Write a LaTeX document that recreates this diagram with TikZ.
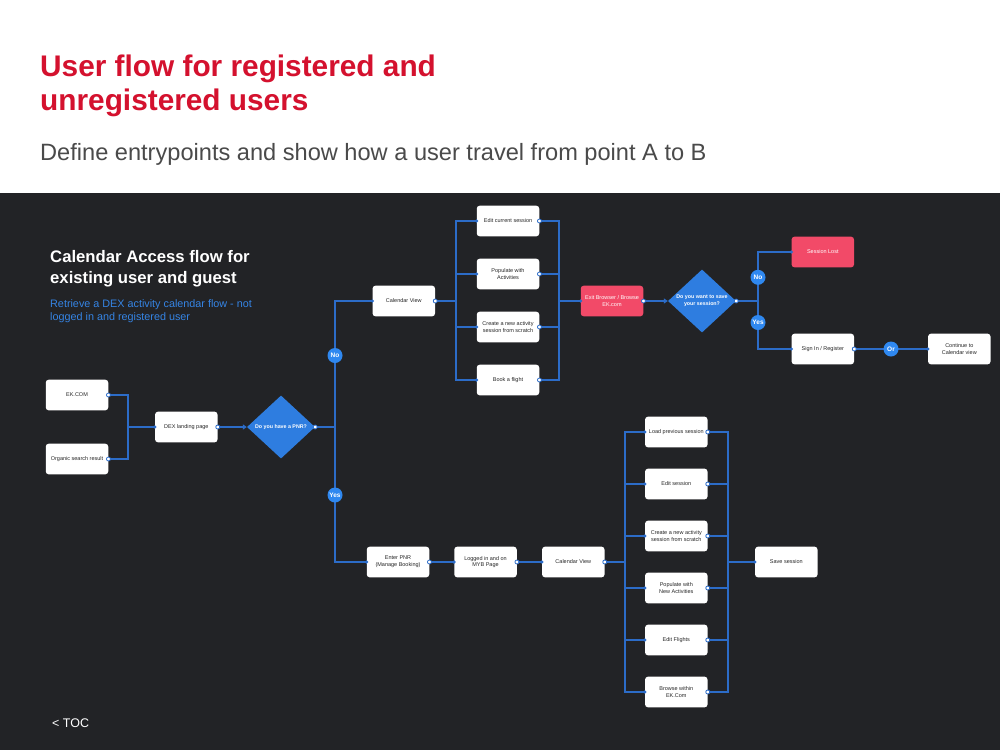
\documentclass[tikz,border=0pt]{standalone}
\usepackage{fontspec}
\setmainfont{Liberation Sans}
\usetikzlibrary{shapes.geometric,arrows.meta}
\definecolor{bgdark}{HTML}{222326}
\definecolor{titlered}{HTML}{D4112E}
\definecolor{subgray}{HTML}{4A4A4A}
\definecolor{dblue}{HTML}{2E7DE0}
\definecolor{badgeblue}{HTML}{2F88F0}
\definecolor{lineblue}{HTML}{2C6CC8}
\definecolor{nodered}{HTML}{F24A68}
\definecolor{leftblue}{HTML}{3584E4}
\tikzset{
  box/.style={fill=white, rounded corners=3pt, minimum width=62.5pt, minimum height=30.7pt,
    inner sep=0pt, align=center, text=black!85, font=\fontsize{5.5}{6.8}\selectfont},
  redbox/.style={box, fill=nodered, text=white},
  dia/.style={diamond, fill=dblue, minimum width=68pt, minimum height=63pt, inner sep=0pt,
    align=center, text=white, font=\bfseries\fontsize{5.3}{6.6}\selectfont},
  badge/.style={circle, fill=badgeblue, minimum size=15pt, inner sep=0pt, text=white,
    font=\bfseries\fontsize{6.5}{7}\selectfont},
  conn/.style={draw=lineblue, line width=1.6pt},
  arr/.style={conn, -{Triangle[length=4pt,width=5pt]}},
}
\newcommand{\srcdot}[1]{\filldraw[fill=white, draw=lineblue, line width=0.8pt] #1 circle (2pt);}
\newcommand{\tgtdot}[1]{\fill[lineblue] #1 circle (1.8pt);}
\begin{document}
\begin{tikzpicture}[x=1pt,y=-1pt]
\useasboundingbox (0,0) rectangle (1000,750);
\fill[white] (0,0) rectangle (1000,192.5);
\fill[bgdark] (0,192.5) rectangle (1000,750);

% header
\node[anchor=base west, inner sep=0pt, text=titlered,
  font=\bfseries\fontsize{29.8}{34}\selectfont] (title) at (40,76)
  {User flow for registered and};
\node[anchor=base west, inner sep=0pt, text=titlered,
  font=\bfseries\fontsize{29.8}{34}\selectfont] (title2) at (40,110) {unregistered users};
\node[anchor=base west, inner sep=0pt, text=subgray,
  font=\fontsize{23.6}{27}\selectfont] (subtitle) at (40,160)
  {Define entrypoints and show how a user travel from point A to B};

% panel text
\node[anchor=base west, inner sep=0pt, text=white, font=\bfseries\fontsize{16.7}{20}\selectfont]
  (ptitle1) at (50,262.3) {Calendar Access flow for};
\node[anchor=base west, inner sep=0pt, text=white, font=\bfseries\fontsize{16.7}{20}\selectfont]
  (ptitle2) at (50,283.5) {existing user and guest};
\node[anchor=base west, inner sep=0pt, text=leftblue, font=\fontsize{10.8}{13}\selectfont]
  (pdesc1) at (50,307.3) {Retrieve a DEX activity calendar flow - not};
\node[anchor=base west, inner sep=0pt, text=leftblue, font=\fontsize{10.8}{13}\selectfont]
  (pdesc2) at (50,320.7) {logged in and registered user};
\node[anchor=base west, inner sep=0pt, text=white, font=\fontsize{12.5}{15}\selectfont]
  (toc) at (52,727) {< TOC};

% nodes
\node[box] (ek) at (77,395) {EK.COM};
\node[box] (org) at (77,459) {Organic search result};
\node[box] (dex) at (186.3,427) {DEX landing page};
\node[dia] (pnr) at (281,427) {Do you have a PNR?};

\node[box] (cv1) at (403.8,301) {Calendar View};
\node[box] (t1) at (508,221) {Edit current session};
\node[box] (t2) at (508,274) {Populate with\\Activities};
\node[box] (t3) at (508,327) {Create a new activity\\session from scratch};
\node[box] (t4) at (508,380) {Book a flight};
\node[redbox] (exit) at (612,301) {Exit Browser / Browse\\EK.com};
\node[dia] (save) at (702,301) {Do you want to save\\your session?};
\node[redbox] (lost) at (822.8,252) {Session Lost};
\node[box] (sign) at (822.8,349) {Sign In / Register};
\node[box] (cont) at (959.3,349) {Continue to\\Calendar view};

\node[box] (enter) at (398,562) {Enter PNR\\(Manage Booking)};
\node[box] (logged) at (485.5,562) {Logged in and on\\MYB Page};
\node[box] (cv2) at (573.3,562) {Calendar View};
\node[box] (b1) at (676.3,432) {Load previous session};
\node[box] (b2) at (676.3,484) {Edit session};
\node[box] (b3) at (676.3,536) {Create a new activity\\session from scratch};
\node[box] (b4) at (676.3,588) {Populate with\\New Activities};
\node[box] (b5) at (676.3,640) {Edit Flights};
\node[box] (b6) at (676.3,692) {Browse within\\EK.Com};
\node[box] (ss) at (786.3,562) {Save session};

% junctions
\coordinate (j1) at (128,427);
\coordinate (j2) at (335,427);
\coordinate (j3) at (456,301);
\coordinate (j4) at (559,301);
\coordinate (j5) at (758,301);
\coordinate (j6) at (625,562);
\coordinate (j7) at (728,562);

% connectors
\draw[conn] (ek.east) -| (j1);
\draw[conn] (org.east) -| (j1);
\draw[conn] (j1) -- (dex.west);
\draw[arr] (dex.east) -- (pnr.west);
\draw[conn] (pnr.east) -- (j2);
\draw[conn] (j2) |- (cv1.west);
\draw[conn] (j2) |- (enter.west);
\draw[conn] (cv1.east) -- (j3);
\foreach \n in {t1,t2,t3,t4} {
  \draw[conn] (j3) |- (\n.west);
  \draw[conn] (\n.east) -| (j4);
}
\draw[conn] (j4) -- (exit.west);
\draw[arr] (exit.east) -- (save.west);
\draw[conn] (save.east) -- (j5);
\draw[conn] (j5) |- (lost.west);
\draw[conn] (j5) |- (sign.west);
\draw[conn] (sign.east) -- (cont.west);
\draw[conn] (enter.east) -- (logged.west);
\draw[conn] (logged.east) -- (cv2.west);
\draw[conn] (cv2.east) -- (j6);
\foreach \n in {b1,b2,b3,b4,b5,b6} {
  \draw[conn] (j6) |- (\n.west);
  \draw[conn] (\n.east) -| (j7);
}
\draw[conn] (j7) -- (ss.west);

% dots
\foreach \n in {ek,org,dex,pnr,cv1,t1,t2,t3,t4,exit,save,sign,enter,logged,cv2,b1,b2,b3,b4,b5,b6} {
  \srcdot{(\n.east)}
}
\foreach \n in {dex,cv1,t1,t2,t3,t4,exit,lost,sign,cont,enter,logged,cv2,b1,b2,b3,b4,b5,b6,ss} {
  \tgtdot{(\n.west)}
}

% badges
\node[badge] (no1) at (335,355.5) {No};
\node[badge] (yes1) at (335,495) {Yes};
\node[badge] (no2) at (758,277.3) {No};
\node[badge] (yes2) at (758,322.5) {Yes};
\node[badge] (or) at (891,349) {Or};
\end{tikzpicture}
\end{document}
